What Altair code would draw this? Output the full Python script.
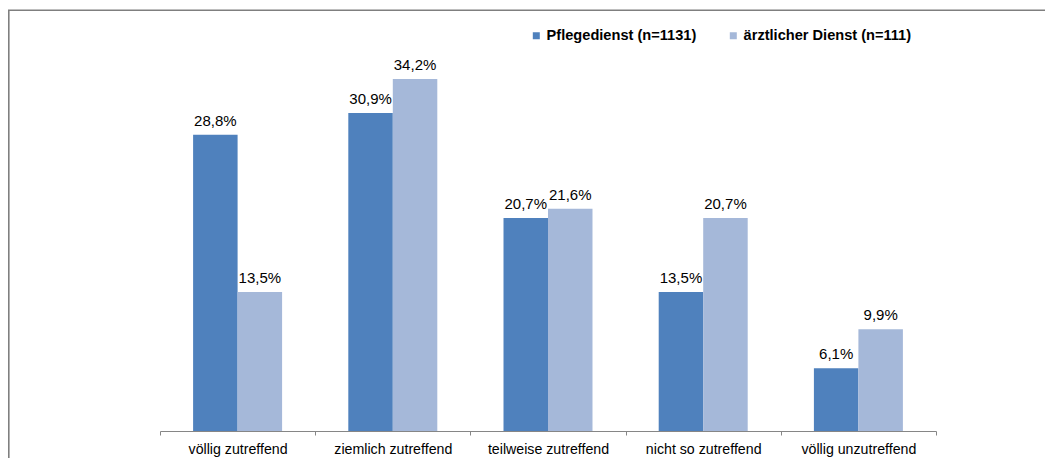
import altair as alt
import pandas as pd

categories = ["völlig zutreffend", "ziemlich zutreffend", "teilweise zutreffend",
              "nicht so zutreffend", "völlig unzutreffend"]
series = ["Pflegedienst (n=1131)", "ärztlicher Dienst (n=111)"]
pflege = [28.8, 30.9, 20.7, 13.5, 6.1]
arzt = [13.5, 34.2, 21.6, 20.7, 9.9]
colors = ["#4F81BD", "#A5B8D9"]

rows = []
for c, p, a in zip(categories, pflege, arzt):
    rows.append({"cat": c, "series": series[0], "value": p})
    rows.append({"cat": c, "series": series[1], "value": a})
df = pd.DataFrame(rows)

FONT = "Liberation Sans"

x_enc = alt.X("cat:N", sort=categories, title=None,
              scale=alt.Scale(paddingInner=0, paddingOuter=0),
              axis=alt.Axis(labelAngle=0, tickBand="extent", domainColor="#868686",
                            tickColor="#868686", tickSize=4, labelPadding=18,
                            labelBaseline="alphabetic", labelFont=FONT,
                            labelFontSize=14.2, labelColor="#000000", domainWidth=1))
xoff = alt.XOffset("series:N", sort=series,
                   scale=alt.Scale(paddingInner=0, paddingOuter=0.744))
y_enc = alt.Y("value:Q", axis=None, scale=alt.Scale(domain=[0, 40], nice=False))

base = alt.Chart(df)

bars = base.mark_bar().encode(
    x=x_enc, xOffset=xoff, y=y_enc,
    color=alt.Color("series:N", sort=series,
                    scale=alt.Scale(domain=series, range=colors),
                    legend=alt.Legend(title=None, orient="none", legendX=369, legendY=9,
                                      direction="horizontal", symbolType="square",
                                      symbolSize=49, symbolStrokeWidth=0, labelOffset=3,
                                      columnPadding=29, labelFont=FONT, labelFontSize=14.6,
                                      labelLimit=400,
                                      labelFontWeight="bold", labelColor="#000000")),
)

texts = base.transform_calculate(
    label="replace(format(datum.value, '.1f'), '.', ',') + '%'"
).mark_text(font=FONT, fontSize=15, color="#000000", baseline="alphabetic", dy=-9).encode(
    x=x_enc, xOffset=xoff, y=y_enc, text="label:N"
)

border_df = pd.DataFrame({"k": [0]})
top_line = alt.Chart(border_df).mark_rule(color="#7f7f7f", strokeWidth=1.6).encode(
    x=alt.value(-152), x2=alt.value(900), y=alt.value(-9.1)
)
left_line = alt.Chart(border_df).mark_rule(color="#7f7f7f", strokeWidth=1.6).encode(
    x=alt.value(-151.2), y=alt.value(-9.1), y2=alt.value(460)
)

chart = alt.layer(top_line, left_line, bars, texts).properties(
    width=776, height=411.6,
    autosize=alt.AutoSizeParams(type="none"),
    padding={"left": 152, "top": 11.4, "right": 109, "bottom": 27},
).configure_view(stroke=None)

chart.save("out.html", embed_options={"renderer": "svg", "actions": False})
